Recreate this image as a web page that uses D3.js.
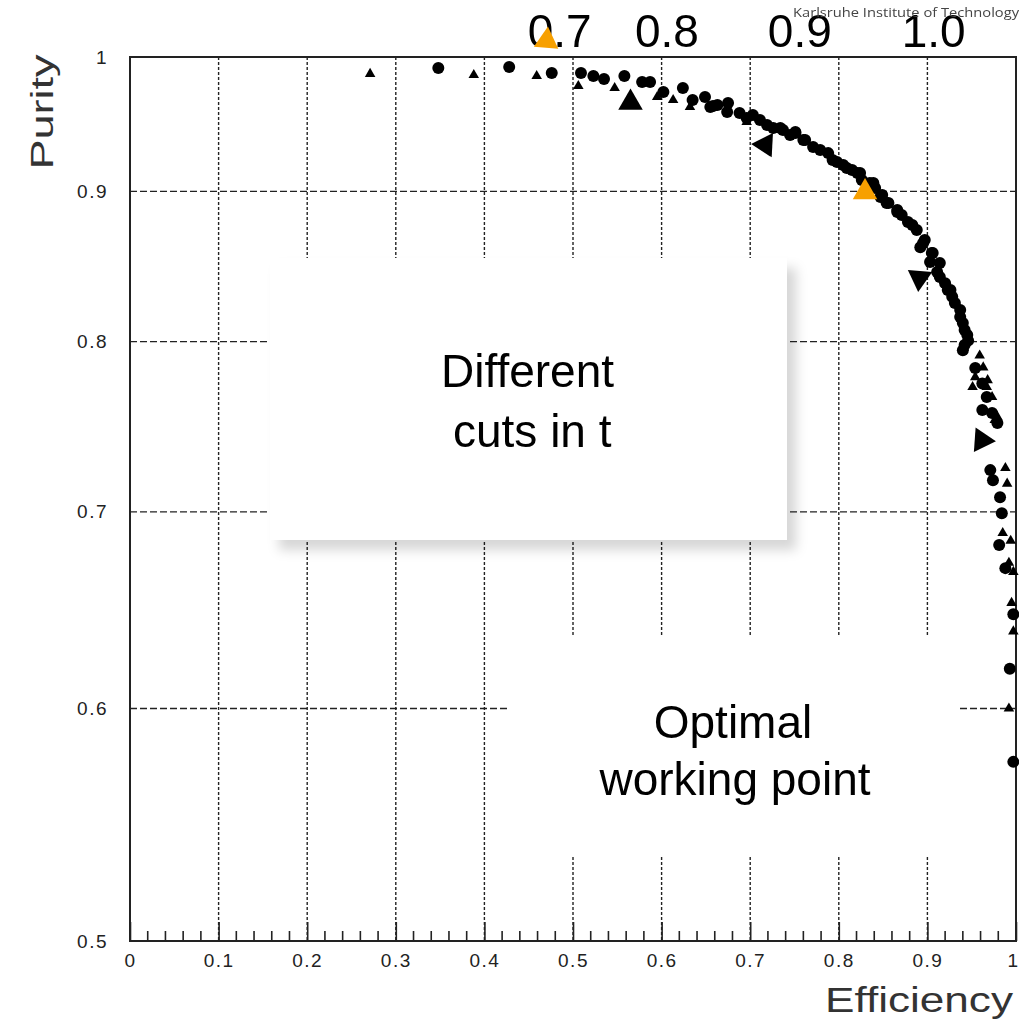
<!DOCTYPE html>
<html>
<head>
<meta charset="utf-8">
<script src="https://cdn.jsdelivr.net/npm/d3@7"></script>
<style>
  body { margin: 0; background: #fff; }
  svg { display: block; }
</style>
</head>
<body>
<svg id="chart"></svg>
<script>
// efficiency / purity pairs (circle scan)
const circlePoints = [
  [0.348,0.9914],[0.428,0.9922],[0.476,0.9875],[0.509,0.9875],[0.523,0.9852],[0.535,0.9829],
  [0.558,0.9852],[0.578,0.9806],[0.587,0.9806],[0.602,0.9729],[0.624,0.9760],[0.635,0.9668],
  [0.649,0.9691],[0.655,0.9615],[0.658,0.9623],[0.663,0.9630],[0.674,0.9578],[0.675,0.9646],
  [0.688,0.9570],[0.696,0.9533],[0.703,0.9555],[0.711,0.9518],[0.719,0.9481],[0.726,0.9458],
  [0.734,0.9458],[0.737,0.9444],[0.745,0.9407],[0.751,0.9421],[0.751,0.9429],[0.760,0.9370],
  [0.762,0.9370],[0.771,0.9318],[0.779,0.9297],[0.788,0.9274],[0.793,0.9224],[0.798,0.9209],
  [0.805,0.9188],[0.809,0.9167],[0.815,0.9152],[0.821,0.9130],[0.824,0.9130],[0.826,0.9081],
  [0.835,0.9059],[0.839,0.9059],[0.841,0.9023],[0.847,0.8960],[0.849,0.8974],[0.854,0.8918],
  [0.856,0.8918],[0.866,0.8856],[0.866,0.8870],[0.871,0.8835],[0.878,0.8787],[0.883,0.8766],
  [0.888,0.8732],[0.892,0.8614],[0.895,0.8642],[0.897,0.8664],[0.903,0.8515],[0.905,0.8575],
  [0.906,0.8575],[0.911,0.8448],[0.914,0.8415],[0.914,0.8508],[0.920,0.8374],[0.923,0.8330],
  [0.926,0.8330],[0.928,0.8286],[0.931,0.8246],[0.937,0.8201],[0.937,0.8155],[0.940,0.8117],
  [0.942,0.8073],[0.945,0.8042],[0.946,0.8006],[0.942,0.7979],[0.940,0.7946],[0.954,0.7836],
  [0.962,0.7741],[0.967,0.7660],[0.962,0.7582],[0.973,0.7564],[0.979,0.7505],[0.971,0.7233],
  [0.974,0.7176],[0.982,0.7081],[0.984,0.6993],[0.981,0.6821],[0.988,0.6698],[0.997,0.6460],
  [0.993,0.6190],[0.997,0.5754]
];

// second scan (triangles)
const trianglePoints = [
  [0.271,0.9868],[0.388,0.9860],[0.459,0.9852],[0.506,0.9775],[0.547,0.9760],[0.595,0.9691],
  [0.613,0.9668],[0.632,0.9615],[0.696,0.9503],[0.737,0.9444],[0.813,0.9152],[0.959,0.7913],
  [0.963,0.7840],[0.954,0.7780],[0.968,0.7762],[0.951,0.7720],[0.967,0.7720],[0.973,0.7660],
  [0.976,0.7523],[0.979,0.7541],[0.988,0.7245],[0.990,0.7157],[0.985,0.6885],[0.994,0.6843],
  [0.992,0.6726],[0.997,0.6678],[0.995,0.6518],[0.997,0.6374],[0.992,0.6000]
];

// big arrow heads pointing at the curve (slide annotation)
const arrowPoints = [[0.5649,0.9648],[0.717,0.9335],[0.891,0.8409],[0.9614,0.7405]];
const orangePoints = [[0.4703,1.0129],[0.8296,0.8995]];

// cut values written above the frame
const cutLabels = ["0.7", "0.8", "0.9", "1.0"];
const cutLabelEff = [0.485, 0.606, 0.756, 0.907];

const xTicks = [0, 0.1, 0.2, 0.3, 0.4, 0.5, 0.6, 0.7, 0.8, 0.9, 1];
const xTickLabels = ["0", "0.1", "0.2", "0.3", "0.4", "0.5", "0.6", "0.7", "0.8", "0.9", "1"];
const yTicks = [0.5, 0.6, 0.7, 0.8, 0.9, 1];
const yTickLabels = ["0.5", "0.6", "0.7", "0.8", "0.9", "1"];

const width = 1019, height = 1020;
const plot = { left: 130, right: 1016, top: 57, bottom: 941 };

const svg = d3.select("#chart").attr("width", width).attr("height", height);

const defs = svg.append("defs");
defs.append("filter").attr("id", "shadow")
  .attr("x", "-10%").attr("y", "-10%").attr("width", "130%").attr("height", "130%")
  .append("feDropShadow")
  .attr("dx", 9).attr("dy", 10).attr("stdDeviation", 6)
  .attr("flood-color", "#000").attr("flood-opacity", 0.16);
defs.append("filter").attr("id", "soft")
  .append("feGaussianBlur").attr("stdDeviation", 0.6);

const x = d3.scaleLinear().domain([0, 1]).range([plot.left, plot.right]);
const y = d3.scaleLog().domain([0.5, 1]).range([plot.bottom, plot.top]);

// grid
svg.append("g").selectAll("line")
  .data(xTicks.slice(1, -1))
  .join("line")
  .attr("x1", d => x(d)).attr("x2", d => x(d))
  .attr("y1", plot.top).attr("y2", plot.bottom)
  .attr("stroke", "#222").attr("stroke-width", 1.4)
  .attr("stroke-dasharray", "3,2");

svg.append("g").selectAll("line")
  .data(yTicks.slice(1, -1))
  .join("line")
  .attr("x1", plot.left).attr("x2", plot.right)
  .attr("y1", d => y(d)).attr("y2", d => y(d))
  .attr("stroke", "#222").attr("stroke-width", 1.4)
  .attr("stroke-dasharray", "7,3");

// frame
svg.append("rect")
  .attr("x", plot.left).attr("y", plot.top)
  .attr("width", plot.right - plot.left).attr("height", plot.bottom - plot.top)
  .attr("fill", "none").attr("stroke", "#222").attr("stroke-width", 2);

// x ticks point inward (ROOT style)
const minorTicks = d3.range(0, 51).map(i => i / 50).filter(d => Math.round(d * 50) % 5 !== 0);
svg.append("g").selectAll("line")
  .data(minorTicks)
  .join("line")
  .attr("x1", d => x(d)).attr("x2", d => x(d))
  .attr("y1", plot.bottom).attr("y2", plot.bottom - 10)
  .attr("stroke", "#222").attr("stroke-width", 1.6);

const xAxis = d3.axisBottom(x)
  .tickValues(xTicks)
  .tickSize(-19)
  .tickPadding(13)
  .tickFormat((d, i) => xTickLabels[i]);

svg.append("g")
  .attr("transform", `translate(0,${plot.bottom})`)
  .call(xAxis)
  .call(g => g.select(".domain").remove())
  .call(g => g.selectAll(".tick line").attr("stroke", "#222").attr("stroke-width", 1.6))
  .call(g => g.selectAll(".tick text")
    .attr("font-family", "Liberation Sans, Arial, sans-serif")
    .attr("font-size", 19).attr("letter-spacing", 1.5)
    .attr("fill", "#222")
    .attr("dx", d => d === 1 ? -3 : 0));

const yAxis = d3.axisLeft(y)
  .tickValues(yTicks)
  .tickSize(0)
  .tickPadding(22)
  .tickFormat((d, i) => yTickLabels[i]);

svg.append("g")
  .attr("transform", `translate(${plot.left},0)`)
  .call(yAxis)
  .call(g => g.select(".domain").remove())
  .call(g => g.selectAll(".tick text")
    .attr("font-family", "Liberation Sans, Arial, sans-serif")
    .attr("font-size", 19).attr("letter-spacing", 1.5)
    .attr("fill", "#222"));

// axis titles
svg.append("text")
  .attr("transform", "translate(53,112) rotate(-90)")
  .attr("text-anchor", "middle")
  .attr("font-family", "Liberation Sans, Arial, sans-serif")
  .attr("font-size", 31)
  .attr("textLength", 115).attr("lengthAdjust", "spacingAndGlyphs")
  .attr("fill", "#333")
  .text("Purity");

svg.append("text")
  .attr("x", 1013).attr("y", 1012)
  .attr("text-anchor", "end")
  .attr("font-family", "Liberation Sans, Arial, sans-serif")
  .attr("font-size", 35)
  .attr("textLength", 188).attr("lengthAdjust", "spacingAndGlyphs")
  .attr("fill", "#333")
  .text("Efficiency");

// data points
const points = svg.append("g").attr("filter", "url(#soft)");

points.selectAll("circle")
  .data(circlePoints)
  .join("circle")
  .attr("cx", d => x(d[0]))
  .attr("cy", d => y(d[1]))
  .attr("r", 6)
  .attr("fill", "#000");

points.selectAll("path")
  .data(trianglePoints)
  .join("path")
  .attr("d", d3.symbol(d3.symbolTriangle, 48))
  .attr("transform", d => `translate(${x(d[0])},${y(d[1])})`)
  .attr("fill", "#000");

// slide overlay boxes
svg.append("rect")
  .attr("x", 270).attr("y", 258).attr("width", 517).attr("height", 282)
  .attr("fill", "#fff").attr("filter", "url(#shadow)");

svg.append("rect")
  .attr("x", 510).attr("y", 637).attr("width", 447).attr("height", 220)
  .attr("fill", "#fff");

const slideFont = "Liberation Sans, Arial, Helvetica, sans-serif";

svg.append("text")
  .attr("x", 441).attr("y", 387)
  .attr("font-family", slideFont).attr("font-size", 46)
  .text("Different");

svg.append("text")
  .attr("x", 453).attr("y", 447)
  .attr("font-family", slideFont).attr("font-size", 46)
  .text("cuts in t");

svg.append("text")
  .attr("x", 733).attr("y", 738)
  .attr("text-anchor", "middle")
  .attr("font-family", slideFont).attr("font-size", 46)
  .text("Optimal");

svg.append("text")
  .attr("x", 735).attr("y", 795)
  .attr("text-anchor", "middle")
  .attr("font-family", slideFont).attr("font-size", 46)
  .text("working point");

svg.append("g").selectAll("text")
  .data(cutLabels)
  .join("text")
  .attr("x", (d, i) => x(cutLabelEff[i]))
  .attr("y", 47)
  .attr("text-anchor", "middle")
  .attr("font-family", slideFont).attr("font-size", 46)
  .text(d => d);

svg.append("text")
  .attr("x", 793).attr("y", 17)
  .attr("font-family", "Open Sans, DejaVu Sans, sans-serif")
  .attr("font-size", 13)
  .attr("textLength", 226).attr("lengthAdjust", "spacingAndGlyphs")
  .attr("fill", "#444")
  .text("Karlsruhe Institute of Technology");

// annotation arrow heads
const arrowAngle = [0, -87, -55, -26];
svg.append("g").selectAll("path")
  .data(arrowPoints)
  .join("path")
  .attr("d", d3.symbol(d3.symbolTriangle, 260))
  .attr("transform", (d, i) => `translate(${x(d[0])},${y(d[1])}) rotate(${arrowAngle[i]})`)
  .attr("fill", "#000");

const orangeAngle = [5, 0];
svg.append("g").selectAll("path")
  .data(orangePoints)
  .join("path")
  .attr("d", d3.symbol(d3.symbolTriangle, 260))
  .attr("transform", (d, i) => `translate(${x(d[0])},${y(d[1])}) rotate(${orangeAngle[i]})`)
  .attr("fill", "#f7a000");
</script>
</body>
</html>
